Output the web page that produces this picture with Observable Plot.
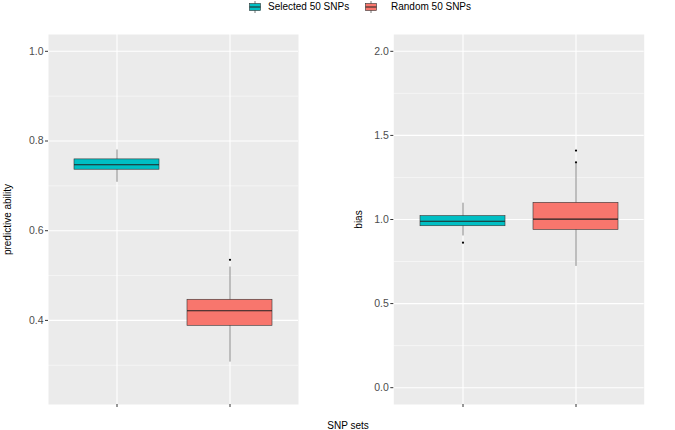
<!DOCTYPE html>
<html>
<head>
<meta charset="utf-8">
<script src="https://cdn.jsdelivr.net/npm/d3@7"></script>
<script src="https://cdn.jsdelivr.net/npm/@observablehq/plot@0.6"></script>
<style>
  html, body { margin: 0; padding: 0; background: #fff; }
  #wrap { position: relative; width: 675px; height: 430px; font-family: "Liberation Sans", Arial, sans-serif; overflow: hidden; }
  #wrap svg { position: absolute; top: 0; }
  #legend { position: absolute; top: 0; left: 0; width: 675px; height: 16px; font-size: 10px; color: #000; }
  #xtitle { position: absolute; top: 420px; font-size: 10px; color: #000; width: 120px; text-align: center; }
</style>
</head>
<body>
<div id="wrap">
  <div id="legend"></div>
  <div id="xtitle">SNP sets</div>
</div>
<script>
// ---- data ----
const sets = ["Selected 50 SNPs", "Random 50 SNPs"];
const setColors = ["#00BFC4", "#F8766D"];

// predictive ability box statistics (per set)
const paLower  = [0.708, 0.307];
const paQ1     = [0.736, 0.388];
const paMedian = [0.747, 0.4215];
const paQ3     = [0.759, 0.446];
const paUpper  = [0.780, 0.519];
const paOutlierSet = ["Random 50 SNPs"];
const paOutlierVal = [0.535];
const paTicks = [0.4, 0.6, 0.8, 1.0];
const paMinor = [0.3, 0.5, 0.7, 0.9];

// bias box statistics (per set)
const biasLower  = [0.902, 0.721];
const biasQ1     = [0.960, 0.938];
const biasMedian = [0.990, 1.002];
const biasQ3     = [1.020, 1.099];
const biasUpper  = [1.097, 1.335];
const biasOutlierSet = ["Selected 50 SNPs", "Random 50 SNPs", "Random 50 SNPs"];
const biasOutlierVal = [0.862, 1.41, 1.34];
const biasTicks = [0.0, 0.5, 1.0, 1.5, 2.0];
const biasMinor = [0.25, 0.75, 1.25, 1.75];

function boxTable(lo, q1, med, q3, hi) {
  return sets.map((s, i) => ({set: s, lo: lo[i], q1: q1[i], med: med[i], q3: q3[i], hi: hi[i]}));
}
function outTable(ss, vv) { return ss.map((s, i) => ({set: s, v: vv[i]})); }

function panel({stats, outliers, domain, ticks, minor, title, width, marginLeft, marginRight, titleDx}) {
  return Plot.plot({
    width, height: 430,
    marginTop: 34, marginBottom: 26, marginLeft, marginRight,
    style: {fontFamily: "Liberation Sans, Arial, sans-serif", background: "transparent", overflow: "visible"},
    x: {type: "band", domain: sets, paddingInner: 0.25, paddingOuter: 0.225, axis: null},
    y: {domain, axis: null},
    color: {domain: sets, range: setColors},
    marks: [
      Plot.frame({fill: "#EBEBEB", stroke: null}),
      Plot.gridY(minor, {stroke: "#fff", strokeOpacity: 1, strokeWidth: 0.5}),
      Plot.gridY(ticks, {stroke: "#fff", strokeOpacity: 1, strokeWidth: 1.1}),
      Plot.gridX(sets, {stroke: "#fff", strokeOpacity: 1, strokeWidth: 1.1}),
      Plot.axisY(ticks, {tickSize: 3, tickPadding: 2, stroke: "#333", fill: "#4D4D4D", fontSize: 10.5,
        tickFormat: d3.format(".1f"), label: null}),
      Plot.axisX(sets, {tickSize: 3, stroke: "#333", tickFormat: () => "", label: null}),
      Plot.ruleX(stats, {x: "set", y1: "lo", y2: "hi", stroke: "#555", strokeWidth: 0.7}),
      Plot.barY(stats, {x: "set", y1: "q1", y2: "q3", fill: "set", stroke: "#333", strokeWidth: 0.6}),
      Plot.tickY(stats, {x: "set", y: "med", stroke: "#222", strokeWidth: 1.1}),
      Plot.dot(outliers, {x: "set", y: "v", r: 1.1, fill: "#000", stroke: null}),
      Plot.text([title], {frameAnchor: "left", textAnchor: "middle", text: d => d, rotate: -90, dx: titleDx, fontSize: 10, fill: "#000"})
    ]
  });
}

const wrap = document.getElementById("wrap");

const left = panel({
  stats: boxTable(paLower, paQ1, paMedian, paQ3, paUpper),
  outliers: outTable(paOutlierSet, paOutlierVal),
  domain: [0.2125, 1.0375], ticks: paTicks, minor: paMinor,
  title: "predictive ability", width: 300, marginLeft: 48, marginRight: 2, titleDx: -41
});
left.style.left = "0px";
wrap.appendChild(left);

const right = panel({
  stats: boxTable(biasLower, biasQ1, biasMedian, biasQ3, biasUpper),
  outliers: outTable(biasOutlierSet, biasOutlierVal),
  domain: [-0.1, 2.1], ticks: biasTicks, minor: biasMinor,
  title: "bias", width: 375, marginLeft: 93.3, marginRight: 31.3, titleDx: -35
});
right.style.left = "300px";
wrap.appendChild(right);

// x title centred under both panels
const xt = document.getElementById("xtitle");
xt.style.left = (348 - 60) + "px";

// legend
const legend = document.getElementById("legend");
const legendPos = [{key: 249, text: 268}, {key: 365, text: 391}];
sets.forEach((s, i) => {
  const k = document.createElementNS("http://www.w3.org/2000/svg", "svg");
  k.setAttribute("width", 12); k.setAttribute("height", 12);
  k.style.position = "absolute"; k.style.left = legendPos[i].key + "px"; k.style.top = "1px";
  k.innerHTML = `<line x1="6" x2="6" y1="0" y2="12" stroke="#555" stroke-width="0.8"/>
    <rect x="0.5" y="2.5" width="11" height="7" fill="${setColors[i]}" stroke="#333" stroke-width="0.6"/>
    <line x1="0.5" x2="11.5" y1="6" y2="6" stroke="#222" stroke-width="1"/>`;
  legend.appendChild(k);
  const t = document.createElement("div");
  t.textContent = s;
  t.style.position = "absolute"; t.style.left = legendPos[i].text + "px"; t.style.top = "1px";
  t.style.lineHeight = "12px";
  legend.appendChild(t);
});
</script>
</body>
</html>
